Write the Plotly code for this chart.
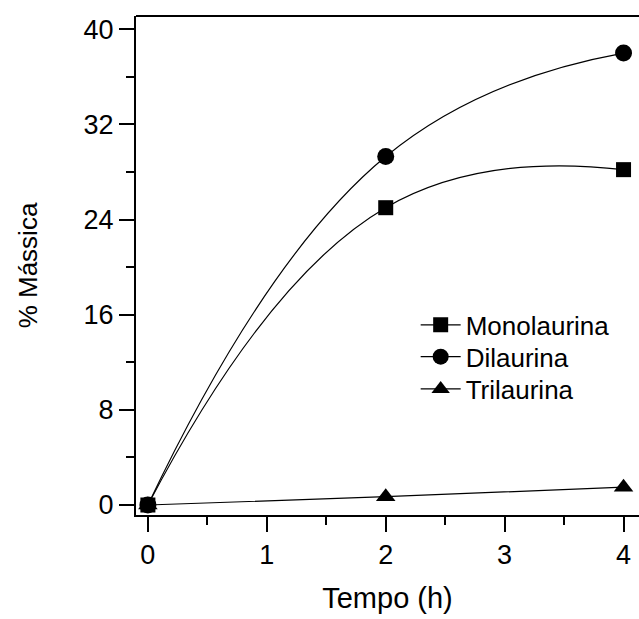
import plotly.graph_objects as go

tempo = [0, 2, 4]
monolaurina = [0.0, 25.0, 28.2]
dilaurina = [0.0, 29.3, 38.0]
trilaurina = [0.0, 0.7, 1.5]

series = [
    ("Monolaurina", monolaurina, "square", 15, "legend", 0.381),
    ("Dilaurina", dilaurina, "circle", 17, "legend2", 0.317),
    ("Trilaurina", trilaurina, "triangle-up", 17, "legend3", 0.2525),
]

font = "Liberation Sans, Arial, sans-serif"

fig = go.Figure()
legends = {}
for name, vals, sym, sz, leg, ly in series:
    fig.add_trace(go.Scatter(
        x=tempo, y=vals, name=name, mode="lines+markers",
        line=dict(color="black", width=1.2, shape="spline", smoothing=1.3),
        marker=dict(symbol=sym, size=sz, color="black"),
        legend=leg,
    ))
    legends[leg] = dict(
        x=0.556, y=ly, xanchor="left", yanchor="middle",
        font=dict(size=26, family=font, color="black"),
        bgcolor="rgba(0,0,0,0)", itemwidth=40,
    )

fig.update_layout(
    width=639, height=619,
    margin=dict(l=136, r=0, t=16, b=104),
    paper_bgcolor="white", plot_bgcolor="white",
    font=dict(family=font, size=24, color="black"),
    showlegend=True,
    **legends,
    xaxis=dict(
        range=[-0.1, 4.13], showgrid=False, zeroline=False,
        showline=True, linecolor="black", linewidth=2,
        ticks="outside", ticklen=15, tickwidth=2, tickcolor="black",
        tickvals=[0, 1, 2, 3, 4],
        minor=dict(tickvals=[0.5, 1.5, 2.5, 3.5], ticks="outside", ticklen=8, tickwidth=2, tickcolor="black"),
        tickfont=dict(size=27),
        title=dict(text="Tempo (h)", font=dict(size=29), standoff=18),
    ),
    yaxis=dict(
        range=[-0.84, 41.12], showgrid=False, zeroline=False,
        showline=True, linecolor="black", linewidth=2,
        ticks="outside", ticklen=15, tickwidth=2, tickcolor="black",
        tickvals=[0, 8, 16, 24, 32, 40],
        minor=dict(tickvals=[4, 12, 20, 28, 36], ticks="outside", ticklen=8, tickwidth=2, tickcolor="black"),
        tickfont=dict(size=27),
        title=dict(text="% Mássica", font=dict(size=26), standoff=38),
    ),
    shapes=[dict(type="line", xref="paper", yref="paper", x0=0, x1=1, y0=1, y1=1,
                 line=dict(color="black", width=2))],
)

fig.write_html("out.html")
